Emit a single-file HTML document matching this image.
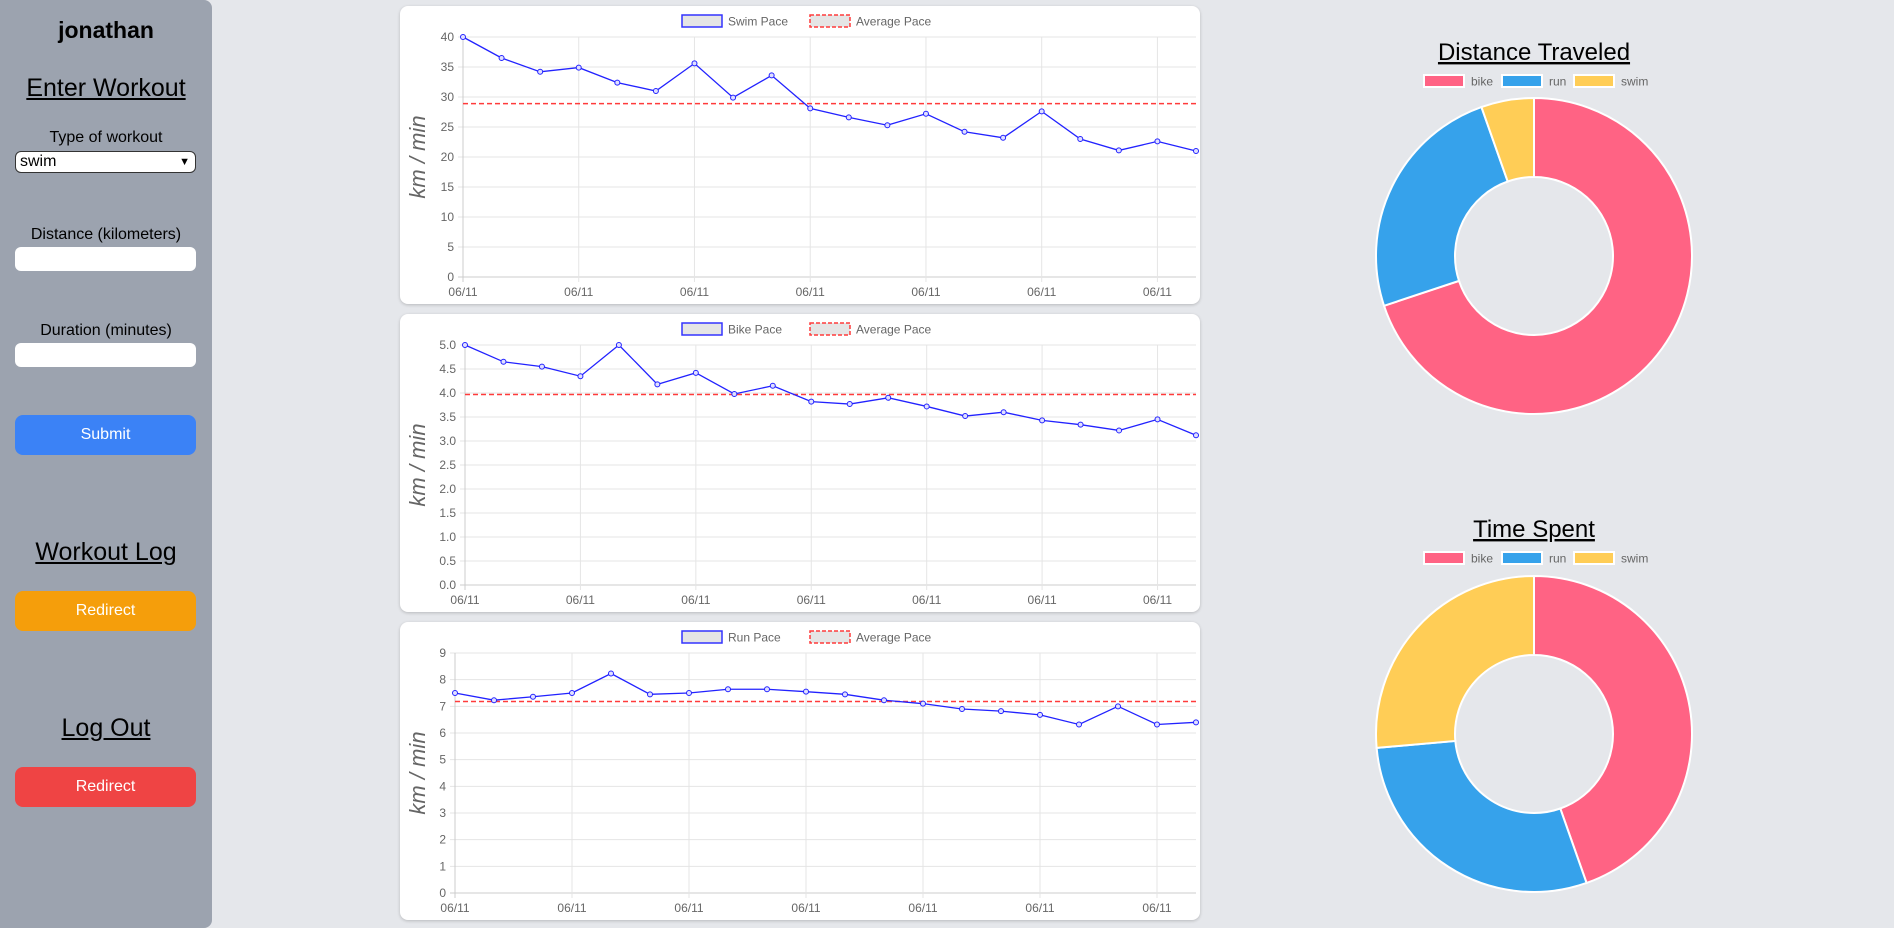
<!DOCTYPE html>
<html><head><meta charset="utf-8"><style>
body{margin:0;width:1894px;height:928px;background:#e5e7eb;font-family:"Liberation Sans",sans-serif;overflow:hidden;position:relative}
#side{position:absolute;left:0;top:0;width:212px;height:928px;background:#9ca3af;border-radius:0 8px 8px 0;text-align:center;color:#000}
.t{position:absolute;left:0;width:212px;text-align:center}
.inp{position:absolute;left:15px;width:181px;background:#fff;border-radius:6px}
.btn{position:absolute;left:15px;width:181px;height:40px;border-radius:8px;color:#fff;font-size:16px;line-height:40px;text-align:center}
.card{position:absolute;left:400px;width:800px;height:298px;background:#fff;border-radius:8px;box-shadow:0 1px 3px rgba(0,0,0,.2)}
svg text{font-family:"Liberation Sans",sans-serif}
</style></head><body>
<div id="side">
<div class="t" style="top:17px;font-size:23px;font-weight:bold">jonathan</div>
<div class="t" style="top:74px;font-size:25px;text-decoration:underline">Enter Workout</div>
<div class="t" style="top:129px;font-size:16px">Type of workout</div>
<div class="inp" style="top:151px;height:22px;border:1px solid #333;box-sizing:border-box;width:181px;text-align:left;font-size:16px;line-height:20px;padding-left:4px">swim<span style="position:absolute;right:5px;font-size:11px">&#9660;</span></div>
<div class="t" style="top:226px;font-size:16px">Distance (kilometers)</div>
<div class="inp" style="top:247px;height:24px"></div>
<div class="t" style="top:322px;font-size:16px">Duration (minutes)</div>
<div class="inp" style="top:343px;height:24px"></div>
<div class="btn" style="top:415px;background:#3b82f6">Submit</div>
<div class="t" style="top:538px;font-size:25px;text-decoration:underline">Workout Log</div>
<div class="btn" style="top:591px;background:#f59e0b">Redirect</div>
<div class="t" style="top:714px;font-size:25px;text-decoration:underline">Log Out</div>
<div class="btn" style="top:767px;background:#ef4444">Redirect</div>
</div>
<div class="card" style="top:6px"><svg id="c1" width="800" height="298"></svg></div>
<div class="card" style="top:314px"><svg id="c2" width="800" height="298"></svg></div>
<div class="card" style="top:622px"><svg id="c3" width="800" height="298"></svg></div>
<svg id="donuts" style="position:absolute;left:1300px;top:0" width="470" height="928"></svg>
<script>
const NS='http://www.w3.org/2000/svg';
const labels=Array(20).fill('06/11');
const swimPace=[40,36.5,34.2,34.9,32.4,31.0,35.6,29.9,33.6,28.1,26.6,25.3,27.2,24.2,23.2,27.6,23.0,21.1,22.6,21.0];
const swimAvg=28.9;
const swimTicks=[0,5,10,15,20,25,30,35,40];
const bikePace=[5.0,4.65,4.55,4.35,5.0,4.18,4.42,3.98,4.15,3.82,3.77,3.9,3.72,3.52,3.6,3.43,3.34,3.22,3.45,3.12];
const bikeAvg=3.97;
const bikeTicks=[0,0.5,1,1.5,2,2.5,3,3.5,4,4.5,5];
const runPace=[7.5,7.23,7.36,7.5,8.23,7.45,7.5,7.64,7.64,7.55,7.45,7.23,7.1,6.9,6.82,6.68,6.32,7.0,6.32,6.4];
const runAvg=7.18;
const runTicks=[0,1,2,3,4,5,6,7,8,9];
const donutCats=['bike','run','swim'];
const distanceVals=[69.9,24.7,5.4];
const timeVals=[44.6,29,26.4];
const colors=['#ff6384','#36a2eb','#ffcd56'];
function el(p,tag,a,txt){const e=document.createElementNS(NS,tag);for(const k in a)e.setAttribute(k,a[k]);if(txt!=null)e.textContent=txt;p.appendChild(e);return e;}
function line(id,name,vals,avg,ticks,L,T,B,dec){
 const s=document.getElementById(id);const R=796;
 const max=ticks[ticks.length-1];
 const y=v=>B-(v/max)*(B-T);const x=i=>L+i*(R-L)/(vals.length-1);
 ticks.forEach(t=>{const g=el(s,'line',{x1:L-5,x2:R,y1:y(t),y2:y(t),stroke:t===0?'#ccc':'#e5e5e5'});
 
 const tx=el(s,'text',{x:L-9,y:y(t)+4,'text-anchor':'end','font-size':12,fill:'#666'},dec?t.toFixed(1):t);
 });
 for(let i=0;i<vals.length;i+=3){const g=el(s,'line',{x1:x(i),x2:x(i),y1:T,y2:B+5,stroke:i===0?'#ccc':'#e5e5e5'});
 
 const tx=el(s,'text',{x:x(i),y:B+19,'text-anchor':'middle','font-size':12,fill:'#666'},labels[i]);
 }
 const a=el(s,'line',{x1:L,x2:R,y1:y(avg),y2:y(avg),stroke:'#ff3b3b','stroke-width':1.5,'stroke-dasharray':'5,3'});
 
 const pl=el(s,'polyline',{points:vals.map((v,i)=>x(i)+','+y(v)).join(' '),fill:'none',stroke:'#2222ff','stroke-width':1.3});
 
 vals.forEach((v,i)=>{const c=el(s,'circle',{cx:x(i),cy:y(v),r:2.5,fill:'#e0e0ff',stroke:'#2222ff','stroke-width':1});
 });
 const yt=el(s,'text',{transform:`translate(25,${(T+B)/2}) rotate(-90)`,'text-anchor':'middle','font-size':22,'font-style':'italic',fill:'#666'},'km / min');
 
 const cx=400;
 const r1=el(s,'rect',{x:cx-118,y:9,width:40,height:12,fill:'#e5e5e5',stroke:'#3333ff','stroke-width':1.5});
 
 const t1=el(s,'text',{x:cx-72,y:19.5,'font-size':12,fill:'#666'},name);
 
 const r2=el(s,'rect',{x:cx+10,y:9,width:40,height:12,fill:'#e5e5e5',stroke:'#ff3b3b','stroke-width':1.5,'stroke-dasharray':'4,2'});
 
 const t2=el(s,'text',{x:cx+56,y:19.5,'font-size':12,fill:'#666'},'Average Pace');
 
}
line('c1','Swim Pace',swimPace,swimAvg,swimTicks,63,31,271,false);
line('c2','Bike Pace',bikePace,bikeAvg,bikeTicks,65,31,271,true);
line('c3','Run Pace',runPace,runAvg,runTicks,55,31,271,false);
function donut(title,vals,cy,ty,ly){
 const s=document.getElementById('donuts');const cx=234,R=158,r=79;
 const t=el(s,'text',{x:cx,y:ty,'text-anchor':'middle','font-size':24,fill:'#000','text-decoration':'underline'},title);
 
 const lx=[124,202,274];
 donutCats.forEach((c,i)=>{const b=el(s,'rect',{x:lx[i],y:ly-6,width:40,height:12,fill:colors[i],stroke:'#fff','stroke-width':2});
 
 const tx=el(s,'text',{x:lx[i]+47,y:ly+4.5,'font-size':12,fill:'#666'},c);
 });
 const tot=vals.reduce((a,b)=>a+b,0);let a0=0;
 vals.forEach((v,i)=>{const a1=a0+v/tot*2*Math.PI;
 const p=(a,rr)=>[cx+rr*Math.sin(a),cy-rr*Math.cos(a)];
 const [x0,y0]=p(a0,R),[x1,y1]=p(a1,R),[x2,y2]=p(a1,r),[x3,y3]=p(a0,r);const lg=(a1-a0)>Math.PI?1:0;
 const path=el(s,'path',{d:`M${x0},${y0}A${R},${R} 0 ${lg} 1 ${x1},${y1}L${x2},${y2}A${r},${r} 0 ${lg} 0 ${x3},${y3}Z`,fill:colors[i],stroke:'#fff','stroke-width':2});
 a0=a1;});
}
donut('Distance Traveled',distanceVals,256,60,81);
donut('Time Spent',timeVals,734,537,558);
</script>
</body></html>
